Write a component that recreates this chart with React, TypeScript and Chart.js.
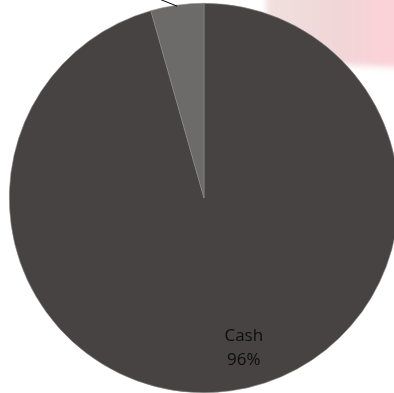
import React, { useEffect, useRef } from "react";
import { Chart, registerables } from "chart.js";

Chart.register(...registerables);

const categories = ["Cash", "Other"];
const shares = [95.6, 4.4];
const labelPercents = ["96%", "4%"];
const sliceColors = ["#474342", "#6d6b69"];

const decorPlugin = {
  id: "decor",
  beforeDraw(chart: any) {
    const ctx = chart.ctx;
    ctx.save();
    ctx.filter = "blur(3px)";
    const g = ctx.createLinearGradient(270, 0, 400, 0);
    g.addColorStop(0, "rgba(240,224,222,1)");
    g.addColorStop(0.5, "rgba(240,214,216,1)");
    g.addColorStop(1, "rgba(253,209,216,1)");
    ctx.fillStyle = g;
    ctx.beginPath();
    ctx.moveTo(266, -10);
    ctx.lineTo(410, -10);
    ctx.lineTo(410, 68);
    ctx.lineTo(330, 64);
    ctx.lineTo(266, 22);
    ctx.closePath();
    ctx.fill();
    ctx.restore();
  },
  afterDraw(chart: any) {
    const ctx = chart.ctx;
    const meta = chart.getDatasetMeta(0);
    const a0 = meta.data[0];
    const p = a0.getProps(["x", "y", "startAngle", "endAngle", "outerRadius"], true);
    const ang = p.startAngle + (p.endAngle - p.startAngle) * 0.48;
    const r = p.outerRadius * 0.8;
    const lx = p.x + Math.cos(ang) * r;
    const ly = p.y + Math.sin(ang) * r;
    ctx.save();
    ctx.fillStyle = "#0d0d0d";
    ctx.font = "17px 'Open Sans', 'Liberation Sans', sans-serif";
    ctx.textAlign = "center";
    ctx.textBaseline = "middle";
    ctx.fillText(categories[0], lx, ly - 12);
    ctx.fillText(labelPercents[0], lx, ly + 12);
    const a1 = meta.data[1];
    const q = a1.getProps(["x", "y", "startAngle", "endAngle", "outerRadius"], true);
    const m = (q.startAngle + q.endAngle) / 2;
    const ex = q.x + Math.cos(m) * q.outerRadius;
    const ey = q.y + Math.sin(m) * q.outerRadius + 1;
    ctx.strokeStyle = "#000";
    ctx.lineWidth = 1;
    ctx.beginPath();
    ctx.moveTo(ex, ey);
    ctx.lineTo(ex - 30, ey - 12);
    ctx.stroke();
    ctx.restore();
  },
};

export default function App() {
  const ref = useRef<HTMLCanvasElement>(null);
  useEffect(() => {
    document.body.style.margin = "0";
    document.body.style.overflow = "hidden";
    const chart = new Chart(ref.current!, {
      type: "pie",
      data: {
        labels: categories,
        datasets: [
          {
            data: shares,
            backgroundColor: sliceColors,
            borderColor: "#8a8886",
            borderWidth: 0.6,
          },
        ],
      },
      options: {
        animation: false,
        responsive: false,
        layout: { padding: { top: 3, bottom: 3, left: 0, right: 0 } },
        plugins: {
          legend: { display: false },
          tooltip: { enabled: false },
        },
      },
      plugins: [decorPlugin],
    });
    return () => chart.destroy();
  }, []);
  return (
    <div style={{ width: 394, height: 393, overflow: "hidden", position: "relative", background: "#fff" }}>
      <canvas ref={ref} width={408} height={396} style={{ position: "absolute", left: 0, top: 0, width: 408, height: 396 }} />
    </div>
  );
}
